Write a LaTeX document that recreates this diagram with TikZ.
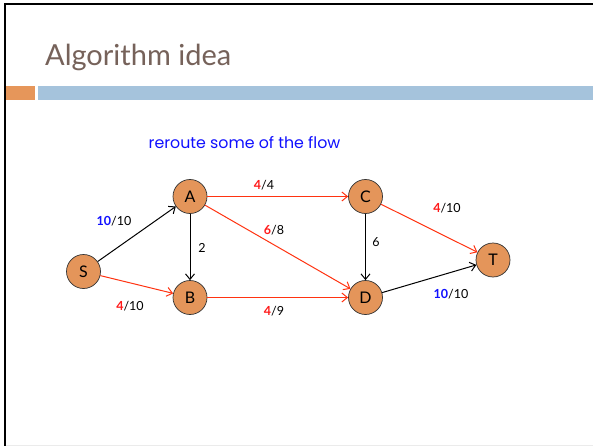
\documentclass[tikz,border=0pt]{standalone}
\usepackage{fontspec}
\setmainfont{Lato}
\newfontfamily\notefont{Poppins}
\usetikzlibrary{arrows.meta}
\definecolor{titlecol}{HTML}{76625A}
\definecolor{orangebar}{HTML}{E6965A}
\definecolor{bluebar}{HTML}{A5C3DC}
\definecolor{nodefill}{HTML}{E4955A}
\definecolor{flowred}{HTML}{FF3311}
\definecolor{numred}{HTML}{FF1A1A}
\definecolor{numblue}{HTML}{1010FF}
\begin{document}
\begin{tikzpicture}[x=1pt,y=-1pt,
  vert/.style={circle,draw=black!80,line width=0.7pt,fill=nodefill,minimum size=34pt,inner sep=0pt,font=\fontsize{16}{16}\selectfont},
  edge/.style={line width=1pt,-{Straight Barb[length=5.5pt,width=9pt]}},
  redge/.style={edge,draw=flowred},
  lbl/.style={font=\fontsize{12.5}{12.5}\selectfont,inner sep=0pt}]
\useasboundingbox (0,0) rectangle (593,446);
\fill[white] (0,0) rectangle (593,446);
% frame
\draw[line width=2.5pt,black] (5,446) -- (5,4) -- (593,4);
\draw[line width=0.6pt,black!8] (6,445.5) -- (593,445.5);
% title and bars
\node[anchor=base west,inner sep=0pt,text=titlecol,font=\fontsize{29}{29}\selectfont] (title) at (45,66) {Algorithm idea};
\fill[orangebar] (6,86) rectangle (35,100.5);
\fill[bluebar] (38,86) rectangle (593,100.5);
\node[text=numblue,font=\notefont\fontsize{15.8}{15.8}\selectfont,inner sep=0pt] (note) at (244.5,143) {reroute some of the flow};
% vertices
\node[vert] (S) at (83.5,271.5) {S};
\node[vert] (A) at (190,196.5) {A};
\node[vert] (B) at (190,297.5) {B};
\node[vert] (C) at (365.5,196.5) {C};
\node[vert] (D) at (365.5,297.5) {D};
\node[vert] (T) at (493,260) {T};
% edges
\draw[edge] (S) -- (A);
\draw[redge] (S) -- (B);
\draw[redge] (A) -- (C);
\draw[redge] (A) -- (D);
\draw[edge] (A) -- (B);
\draw[redge] (B) -- (D);
\draw[edge] (C) -- (D);
\draw[redge] (C) -- (T);
\draw[edge] (D) -- (T);
% labels
\node[lbl] (lSA) at (114,221) {{\color{numblue}\bfseries 10}/10};
\node[lbl] (lSB) at (130,306) {{\color{numred}\bfseries 4}/10};
\node[lbl] (lAC) at (264,185) {{\color{numred}\bfseries 4}/4};
\node[lbl] (lAD) at (274,230) {{\color{numred}\bfseries 6}/8};
\node[lbl] (lAB) at (202,248) {2};
\node[lbl] (lBD) at (274,311) {{\color{numred}\bfseries 4}/9};
\node[lbl] (lCD) at (376,242) {6};
\node[lbl] (lCT) at (447,208) {{\color{numred}\bfseries 4}/10};
\node[lbl] (lDT) at (451,294) {{\color{numblue}\bfseries 10}/10};
\end{tikzpicture}
\end{document}
